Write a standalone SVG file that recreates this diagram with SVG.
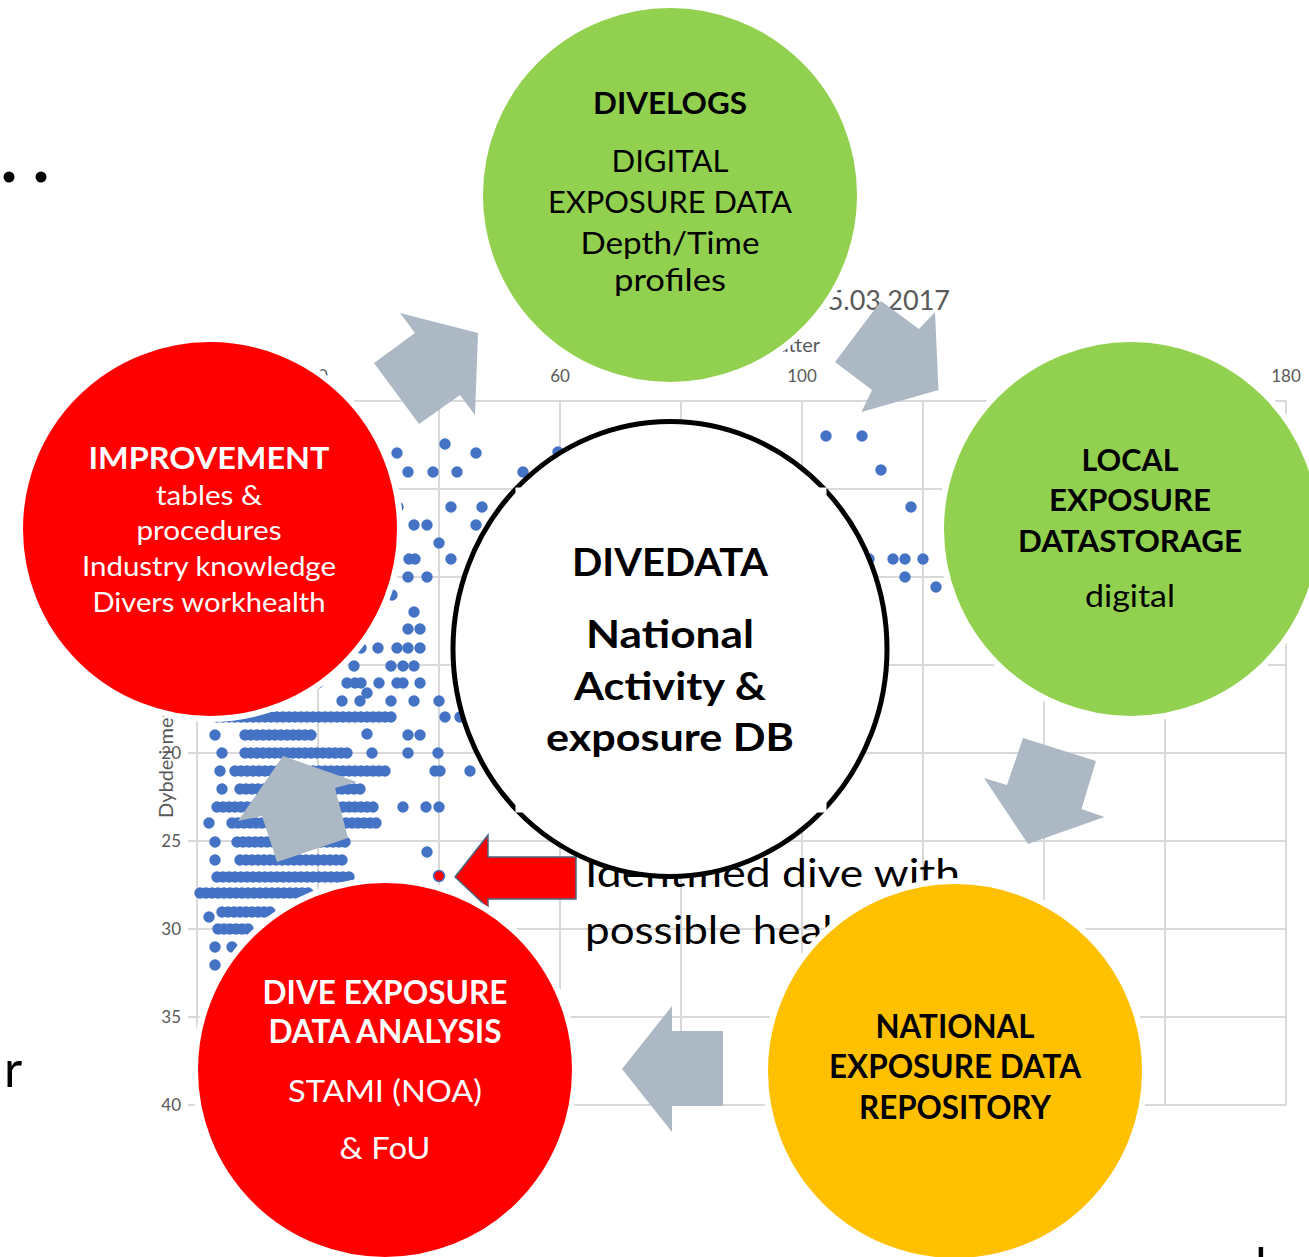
<svg xmlns="http://www.w3.org/2000/svg" width="1309" height="1257" viewBox="0 0 1309 1257">
<style>
.t{font-family:Lato,"Liberation Sans",sans-serif;text-anchor:middle}
.b{font-weight:bold}
.w{fill:#ffffff}
.k{fill:#000000}
.ax{font-family:Lato,"Liberation Sans",sans-serif;fill:#595959}
.grid line{stroke:#D9D9D9;stroke-width:2}
.dot{fill:#4472C4}
.bar{stroke:#4472C4;stroke-width:11.4;stroke-linecap:round;stroke-dasharray:0 6}
.arrow{fill:#ACB9C5}
.node{stroke:#ffffff;stroke-width:6}
</style>
<rect width="1309" height="1257" fill="#ffffff"/>
<g id="stray">
<circle cx="9" cy="177" r="5.5" fill="#000"/>
<circle cx="41" cy="177" r="5.5" fill="#000"/>
<text x="4" y="1087" font-family="Lato,'Liberation Sans',sans-serif" font-size="50" fill="#000">r</text>
<text x="1255" y="1284" font-family="Lato,'Liberation Sans',sans-serif" font-size="50" fill="#000">l</text>
</g>
<g id="chart">
<g class="grid">
<line x1="197" y1="401" x2="197" y2="1105"/><line x1="318" y1="401" x2="318" y2="1105"/>
<line x1="439" y1="401" x2="439" y2="1105"/><line x1="560" y1="401" x2="560" y2="1105"/>
<line x1="681" y1="401" x2="681" y2="1105"/><line x1="802" y1="401" x2="802" y2="1105"/>
<line x1="923" y1="401" x2="923" y2="1105"/><line x1="1044" y1="401" x2="1044" y2="1105"/>
<line x1="1165" y1="401" x2="1165" y2="1105"/><line x1="1286" y1="401" x2="1286" y2="1105"/>
<line x1="188" y1="401" x2="1286" y2="401"/><line x1="188" y1="489" x2="1286" y2="489"/>
<line x1="188" y1="577" x2="1286" y2="577"/><line x1="188" y1="665" x2="1286" y2="665"/>
<line x1="188" y1="753" x2="1286" y2="753"/><line x1="188" y1="841" x2="1286" y2="841"/>
<line x1="188" y1="929" x2="1286" y2="929"/><line x1="188" y1="1017" x2="1286" y2="1017"/>
<line x1="188" y1="1105" x2="1286" y2="1105"/>
</g>
<text class="ax" font-size="17" x="318" y="382" text-anchor="middle">20</text>
<text class="ax" font-size="17" x="560" y="382" text-anchor="middle">60</text>
<text class="ax" font-size="17" x="802" y="382" text-anchor="middle">100</text>
<text class="ax" font-size="17" x="1286" y="382" text-anchor="middle">180</text>
<text class="ax" font-size="17" x="181" y="759" text-anchor="end">20</text>
<text class="ax" font-size="17" x="181" y="847" text-anchor="end">25</text>
<text class="ax" font-size="17" x="181" y="935" text-anchor="end">30</text>
<text class="ax" font-size="17" x="181" y="1023" text-anchor="end">35</text>
<text class="ax" font-size="17" x="181" y="1111" text-anchor="end">40</text>
<text class="ax" font-size="20" transform="translate(173,818) rotate(-90)">Dybde i meter</text>
<text class="ax" x="820" y="352" font-size="20" text-anchor="end">Tid i minutter</text>
<text class="ax" x="950" y="310" font-size="27" text-anchor="end">15.03.2017</text>
<g id="bars">
<line class="bar" x1="217" y1="717" x2="395" y2="717"/>
<line class="bar" x1="245" y1="735" x2="312" y2="735"/>
<line class="bar" x1="245" y1="753" x2="352" y2="753"/>
<line class="bar" x1="235" y1="771" x2="388" y2="771"/>
<line class="bar" x1="240" y1="789" x2="362" y2="789"/>
<line class="bar" x1="217" y1="807" x2="378" y2="807"/>
<line class="bar" x1="232" y1="823" x2="378" y2="823"/>
<line class="bar" x1="237" y1="842" x2="347" y2="842"/>
<line class="bar" x1="240" y1="860" x2="347" y2="860"/>
<line class="bar" x1="217" y1="877" x2="353" y2="877"/>
<line class="bar" x1="200" y1="893" x2="312" y2="893"/>
<line class="bar" x1="222" y1="912" x2="272" y2="912"/>
<line class="bar" x1="218" y1="929" x2="252" y2="929"/>
<line class="bar" x1="232" y1="947" x2="238" y2="947"/>
</g>
<g id="dots">
<circle class="dot" cx="445" cy="444" r="5.7"/><circle class="dot" cx="397" cy="453" r="5.7"/><circle class="dot" cx="476" cy="453" r="5.7"/>
<circle class="dot" cx="408" cy="472" r="5.7"/><circle class="dot" cx="433" cy="472" r="5.7"/><circle class="dot" cx="457" cy="472" r="5.7"/>
<circle class="dot" cx="523" cy="472" r="5.7"/><circle class="dot" cx="558" cy="452" r="5.7"/>
<circle class="dot" cx="398" cy="507" r="5.7"/><circle class="dot" cx="451" cy="507" r="5.7"/><circle class="dot" cx="482" cy="507" r="5.7"/>
<circle class="dot" cx="414" cy="525" r="5.7"/><circle class="dot" cx="427" cy="525" r="5.7"/><circle class="dot" cx="476" cy="525" r="5.7"/>
<circle class="dot" cx="439" cy="543" r="5.7"/>
<circle class="dot" cx="409" cy="559" r="5.7"/><circle class="dot" cx="415" cy="559" r="5.7"/><circle class="dot" cx="451" cy="559" r="5.7"/>
<circle class="dot" cx="408" cy="577" r="5.7"/><circle class="dot" cx="427" cy="577" r="5.7"/>
<circle class="dot" cx="392" cy="595" r="5.7"/><circle class="dot" cx="414" cy="612" r="5.7"/>
<circle class="dot" cx="408" cy="629" r="5.7"/><circle class="dot" cx="420" cy="629" r="5.7"/>
<circle class="dot" cx="361" cy="648" r="5.7"/><circle class="dot" cx="378" cy="648" r="5.7"/><circle class="dot" cx="397" cy="648" r="5.7"/>
<circle class="dot" cx="408" cy="648" r="5.7"/><circle class="dot" cx="420" cy="648" r="5.7"/>
<circle class="dot" cx="354" cy="666" r="5.7"/><circle class="dot" cx="391" cy="666" r="5.7"/><circle class="dot" cx="403" cy="666" r="5.7"/><circle class="dot" cx="414" cy="666" r="5.7"/>
<circle class="dot" cx="318" cy="683" r="5.7"/><circle class="dot" cx="347" cy="683" r="5.7"/><circle class="dot" cx="355" cy="683" r="5.7"/><circle class="dot" cx="361" cy="683" r="5.7"/>
<circle class="dot" cx="379" cy="683" r="5.7"/><circle class="dot" cx="397" cy="683" r="5.7"/><circle class="dot" cx="403" cy="683" r="5.7"/><circle class="dot" cx="420" cy="683" r="5.7"/>
<circle class="dot" cx="367" cy="693" r="5.7"/>
<circle class="dot" cx="342" cy="701" r="5.7"/><circle class="dot" cx="360" cy="701" r="5.7"/><circle class="dot" cx="391" cy="701" r="5.7"/>
<circle class="dot" cx="414" cy="701" r="5.7"/><circle class="dot" cx="439" cy="701" r="5.7"/>
<circle class="dot" cx="445" cy="717" r="5.7"/><circle class="dot" cx="460" cy="717" r="5.7"/>
<circle class="dot" cx="367" cy="734" r="5.7"/><circle class="dot" cx="408" cy="735" r="5.7"/><circle class="dot" cx="420" cy="735" r="5.7"/>
<circle class="dot" cx="372" cy="753" r="5.7"/><circle class="dot" cx="408" cy="753" r="5.7"/><circle class="dot" cx="438" cy="753" r="5.7"/>
<circle class="dot" cx="435" cy="771" r="5.7"/><circle class="dot" cx="440" cy="771" r="5.7"/><circle class="dot" cx="470" cy="771" r="5.7"/>
<circle class="dot" cx="403" cy="807" r="5.7"/><circle class="dot" cx="426" cy="807" r="5.7"/><circle class="dot" cx="439" cy="807" r="5.7"/>
<circle class="dot" cx="427" cy="852" r="5.7"/>
<circle class="dot" cx="215" cy="735" r="5.7"/><circle class="dot" cx="222" cy="753" r="5.7"/><circle class="dot" cx="220" cy="771" r="5.7"/>
<circle class="dot" cx="222" cy="789" r="5.7"/><circle class="dot" cx="209" cy="823" r="5.7"/><circle class="dot" cx="215" cy="842" r="5.7"/>
<circle class="dot" cx="215" cy="860" r="5.7"/><circle class="dot" cx="209" cy="917" r="5.7"/><circle class="dot" cx="215" cy="947" r="5.7"/>
<circle class="dot" cx="215" cy="965" r="5.7"/>
<circle class="dot" cx="826" cy="436" r="5.7"/><circle class="dot" cx="862" cy="436" r="5.7"/><circle class="dot" cx="881" cy="470" r="5.7"/>
<circle class="dot" cx="911" cy="507" r="5.7"/><circle class="dot" cx="869" cy="559" r="5.7"/><circle class="dot" cx="893" cy="559" r="5.7"/>
<circle class="dot" cx="905" cy="559" r="5.7"/><circle class="dot" cx="923" cy="559" r="5.7"/><circle class="dot" cx="905" cy="577" r="5.7"/>
<circle class="dot" cx="936" cy="587" r="5.7"/>
<circle cx="439" cy="876" r="5.5" fill="#FF0000" stroke="#4472C4" stroke-width="1.5"/>
</g>
</g>
<g id="note">
<text x="585" y="887" font-family="Lato,'Liberation Sans',sans-serif" font-size="39" fill="#000" textLength="375" lengthAdjust="spacingAndGlyphs">Identified dive with</text>
<text x="585" y="944" font-family="Lato,'Liberation Sans',sans-serif" font-size="39" fill="#000" textLength="288" lengthAdjust="spacingAndGlyphs">possible health</text>
</g>
<g id="connectors">
<polygon class="arrow" points="400,313 478,333 475,415 460,395 419,424 374,363 415,333"/>
<polygon class="arrow" points="835,362 881,301 919,329 935,312 938.5,390 861.5,412 872,390"/>
<polygon class="arrow" points="1023,738 1096,761 1081.5,809 1104.5,817 1028,844 984,778 1007,785"/>
<polygon class="arrow" points="672,1006 672,1031 723,1031 723,1106 672,1106 672,1132 622,1069"/>
<polygon class="arrow" points="283,756 357,782 335,788 348,838 277,862 262,816 238,821"/>
<polygon points="455,877 488,835 488,857 576,857 576,899 488,899 488,908" fill="#FF0000" stroke="#4A6684" stroke-width="1.5"/>
</g>
<g id="divelogs">
<circle class="node" cx="670" cy="195" r="190" fill="#92D050"/>
<text class="t b k" x="670" y="114" font-size="30" textLength="154" lengthAdjust="spacingAndGlyphs">DIVELOGS</text>
<text class="t k" x="670" y="172" font-size="30" textLength="117" lengthAdjust="spacingAndGlyphs">DIGITAL</text>
<text class="t k" x="670" y="213" font-size="30" textLength="244" lengthAdjust="spacingAndGlyphs">EXPOSURE DATA</text>
<text class="t k" x="670" y="254" font-size="30" textLength="179" lengthAdjust="spacingAndGlyphs">Depth/Time</text>
<text class="t k" x="670" y="291" font-size="30" textLength="112" lengthAdjust="spacingAndGlyphs">profiles</text>
</g>
<g id="local">
<circle class="node" cx="1131" cy="529" r="190" fill="#92D050"/>
<text class="t b k" x="1130" y="471" font-size="31" textLength="97" lengthAdjust="spacingAndGlyphs">LOCAL</text>
<text class="t b k" x="1130" y="511" font-size="31" textLength="162" lengthAdjust="spacingAndGlyphs">EXPOSURE</text>
<text class="t b k" x="1130" y="552" font-size="31" textLength="224" lengthAdjust="spacingAndGlyphs">DATASTORAGE</text>
<text class="t k" x="1130" y="607" font-size="31" textLength="90" lengthAdjust="spacingAndGlyphs">digital</text>
</g>
<g id="improvement">
<circle class="node" cx="210" cy="529" r="190" fill="#FF0000"/>
<text class="t b w" x="209" y="469" font-size="31" textLength="241" lengthAdjust="spacingAndGlyphs">IMPROVEMENT</text>
<text class="t w" x="209" y="505" font-size="26" textLength="106" lengthAdjust="spacingAndGlyphs">tables &amp;</text>
<text class="t w" x="209" y="540" font-size="26" textLength="145" lengthAdjust="spacingAndGlyphs">procedures</text>
<text class="t w" x="209" y="576" font-size="26" textLength="254" lengthAdjust="spacingAndGlyphs">Industry knowledge</text>
<text class="t w" x="209" y="612" font-size="26" textLength="233" lengthAdjust="spacingAndGlyphs">Divers workhealth</text>
</g>
<g id="analysis">
<circle class="node" cx="385" cy="1070" r="190" fill="#FF0000"/>
<text class="t b w" x="385" y="1004" font-size="32" textLength="245" lengthAdjust="spacingAndGlyphs">DIVE EXPOSURE</text>
<text class="t b w" x="385" y="1043" font-size="32" textLength="233" lengthAdjust="spacingAndGlyphs">DATA ANALYSIS</text>
<text class="t w" x="385" y="1102" font-size="30" textLength="194" lengthAdjust="spacingAndGlyphs">STAMI (NOA)</text>
<text class="t w" x="385" y="1159" font-size="30" textLength="91" lengthAdjust="spacingAndGlyphs">&amp; FoU</text>
</g>
<g id="national">
<circle class="node" cx="955" cy="1071" r="190" fill="#FFC000"/>
<text class="t b k" x="955" y="1038" font-size="32" textLength="159" lengthAdjust="spacingAndGlyphs">NATIONAL</text>
<text class="t b k" x="955" y="1078" font-size="32" textLength="252" lengthAdjust="spacingAndGlyphs">EXPOSURE DATA</text>
<text class="t b k" x="955" y="1119" font-size="32" textLength="192" lengthAdjust="spacingAndGlyphs">REPOSITORY</text>
</g>
<g id="divedata">
<ellipse cx="670" cy="649" rx="217" ry="227.5" fill="#ffffff" stroke="#000000" stroke-width="5"/>
<rect x="515.5" y="487.5" width="311" height="325" fill="#ffffff"/>
<text class="t b k" x="670" y="576" font-size="38" textLength="196" lengthAdjust="spacingAndGlyphs">DIVEDATA</text>
<text class="t b k" x="670" y="648" font-size="39" textLength="168" lengthAdjust="spacingAndGlyphs">National</text>
<text class="t b k" x="670" y="700" font-size="39" textLength="192" lengthAdjust="spacingAndGlyphs">Activity &amp;</text>
<text class="t b k" x="670" y="751" font-size="39" textLength="248" lengthAdjust="spacingAndGlyphs">exposure DB</text>
</g>
</svg>
